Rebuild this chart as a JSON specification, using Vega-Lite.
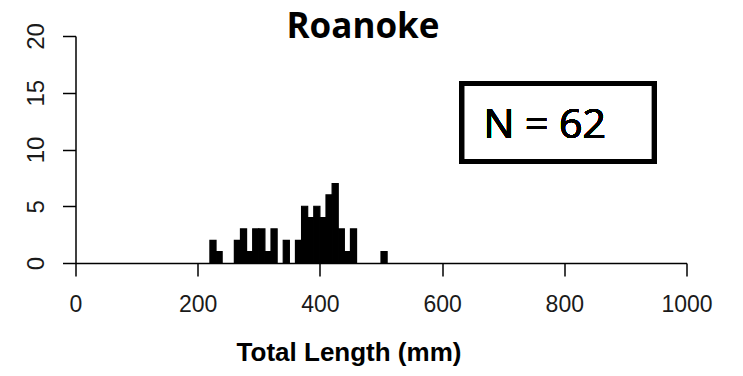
{
  "$schema": "https://vega.github.io/schema/vega-lite/v6.json",
  "autosize": {"type": "none"},
  "padding": {"left": 75.5, "top": 36, "right": 56.5, "bottom": 113},
  "width": 611,
  "height": 227,
  "background": "white",
  "title": {
    "text": "Roanoke",
    "font": "Open Sans",
    "fontSize": 35,
    "fontWeight": "bold",
    "color": "black",
    "frame": "group",
    "anchor": "middle",
    "baseline": "alphabetic",
    "offset": 0,
    "dx": -18,
    "dy": 50
  },
  "config": {
    "view": {"stroke": null},
    "axis": {
      "grid": false,
      "domainColor": "black",
      "domainWidth": 1.5,
      "tickColor": "black",
      "tickWidth": 1.5,
      "tickSize": 13,
      "labelFont": "Liberation Sans",
      "labelFontSize": 23,
      "labelColor": "#1a1a1a",
      "labelFlush": false,
      "titleFont": "Liberation Sans",
      "titleColor": "black"
    },
    "axisX": {
      "labelPadding": 17,
      "format": "d",
      "tickCount": 5
    },
    "axisY": {
      "labelAngle": 270,
      "labelAlign": "center",
      "labelBaseline": "bottom",
      "labelPadding": 14,
      "labelFontSize": 24,
      "tickCount": 5
    }
  },
  "data": {
    "values": [
      {"start": 220, "end": 230, "count": 2},
      {"start": 230, "end": 240, "count": 1},
      {"start": 260, "end": 270, "count": 2},
      {"start": 270, "end": 280, "count": 3},
      {"start": 280, "end": 290, "count": 1},
      {"start": 290, "end": 300, "count": 3},
      {"start": 300, "end": 310, "count": 3},
      {"start": 310, "end": 320, "count": 1},
      {"start": 320, "end": 330, "count": 3},
      {"start": 340, "end": 350, "count": 2},
      {"start": 360, "end": 370, "count": 2},
      {"start": 370, "end": 380, "count": 5},
      {"start": 380, "end": 390, "count": 4},
      {"start": 390, "end": 400, "count": 5},
      {"start": 400, "end": 410, "count": 4},
      {"start": 410, "end": 420, "count": 6},
      {"start": 420, "end": 430, "count": 7},
      {"start": 430, "end": 440, "count": 3},
      {"start": 440, "end": 450, "count": 1},
      {"start": 450, "end": 460, "count": 3},
      {"start": 500, "end": 510, "count": 1}
    ]
  },
  "layer": [
    {
      "mark": {"type": "bar", "color": "black", "stroke": "black", "strokeWidth": 1.2},
      "encoding": {
        "x": {
          "field": "start",
          "type": "quantitative",
          "scale": {"domain": [0, 1000], "nice": false, "zero": false},
          "axis": {
            "title": "Total Length (mm)",
            "titleFontSize": 26,
            "titleFontWeight": "bold",
            "titleX": 273,
            "titleY": 97,
            "titleBaseline": "alphabetic",
            "titleAlign": "center"
          }
        },
        "x2": {"field": "end"},
        "y": {
          "field": "count",
          "type": "quantitative",
          "scale": {"domain": [0, 20], "nice": false},
          "axis": {"title": null}
        },
        "y2": {"datum": 0}
      }
    },
    {
      "mark": {"type": "rect", "fill": null, "filled": false, "stroke": "black", "strokeWidth": 5},
      "encoding": {
        "x": {"datum": 631.8, "type": "quantitative"},
        "x2": {"datum": 947.6},
        "y": {"datum": 15.81, "type": "quantitative"},
        "y2": {"datum": 8.94}
      }
    },
    {
      "mark": {"type": "text", "font": "Open Sans", "fontSize": 41, "color": "black", "align": "center", "baseline": "alphabetic"},
      "encoding": {
        "x": {"datum": 767.8, "type": "quantitative"},
        "y": {"datum": 11.0, "type": "quantitative"},
        "text": {"value": "N = 62"}
      }
    }
  ]
}
